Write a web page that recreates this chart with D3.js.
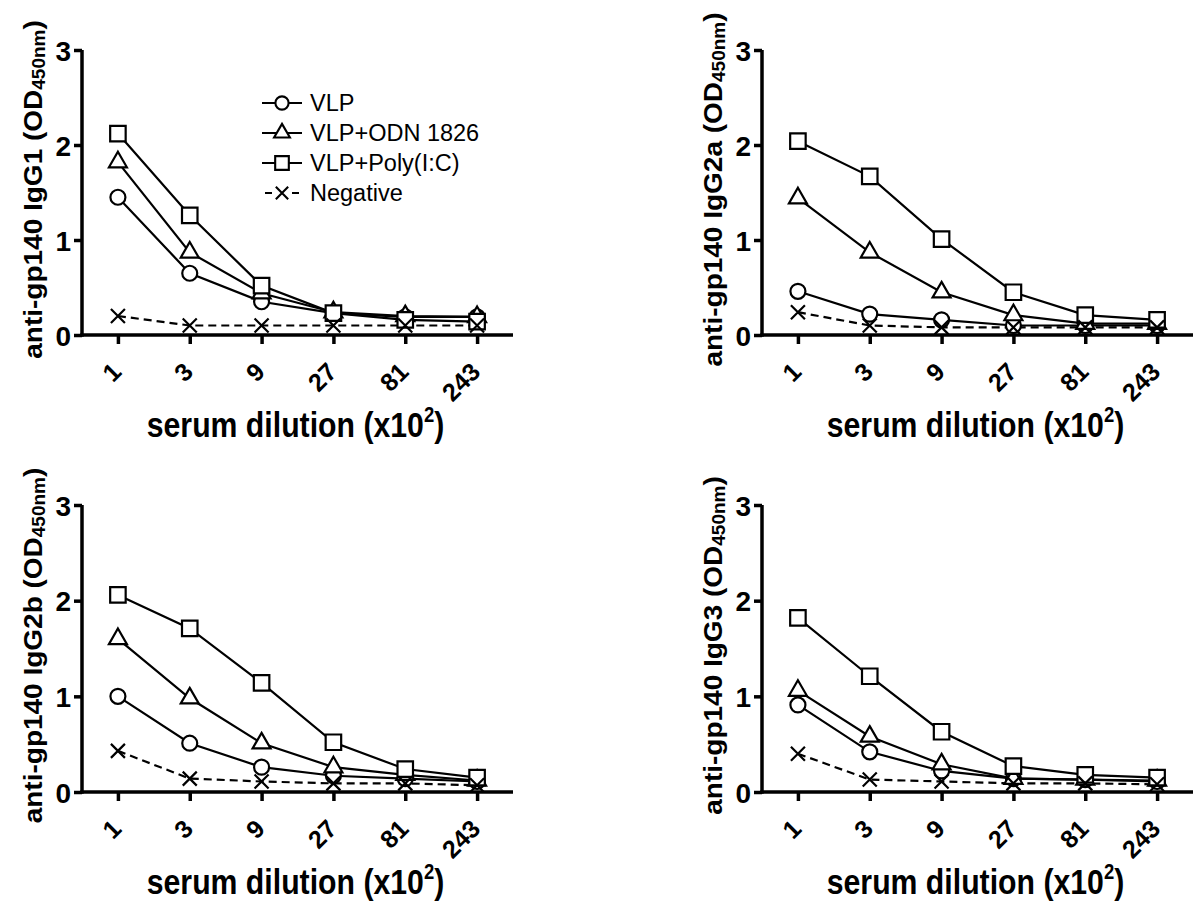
<!DOCTYPE html>
<html><head><meta charset="utf-8">
<script src="https://cdn.jsdelivr.net/npm/d3@7"></script>
<style>body{margin:0;background:#fff}svg{display:block}</style>
</head><body><svg id="c" width="1200" height="918"></svg>
<script>
// ---------- data ----------
const dilutions = ["1","3","9","27","81","243"];
const seriesNames = ["VLP","VLP+ODN 1826","VLP+Poly(I:C)","Negative"];
const yTickValues = [0,1,2,3];
const isotypes = ["IgG1","IgG2a","IgG2b","IgG3"];

const igg1VLP  = [1.45,0.65,0.35,0.23,0.19,0.19];
const igg1ODN  = [1.82,0.87,0.44,0.24,0.20,0.19];
const igg1Poly = [2.12,1.26,0.52,0.23,0.16,0.14];
const igg1Neg  = [0.20,0.10,0.10,0.10,0.10,0.10];

const igg2aVLP  = [0.46,0.22,0.16,0.10,0.10,0.10];
const igg2aODN  = [1.44,0.87,0.45,0.21,0.12,0.12];
const igg2aPoly = [2.04,1.67,1.01,0.45,0.21,0.16];
const igg2aNeg  = [0.24,0.10,0.08,0.08,0.08,0.08];

const igg2bVLP  = [1.00,0.51,0.26,0.17,0.14,0.11];
const igg2bODN  = [1.60,0.98,0.51,0.26,0.18,0.12];
const igg2bPoly = [2.06,1.71,1.14,0.52,0.24,0.15];
const igg2bNeg  = [0.43,0.14,0.11,0.09,0.09,0.07];

const igg3VLP  = [0.91,0.42,0.22,0.14,0.13,0.11];
const igg3ODN  = [1.06,0.58,0.29,0.14,0.13,0.12];
const igg3Poly = [1.82,1.21,0.63,0.27,0.18,0.15];
const igg3Neg  = [0.40,0.13,0.11,0.09,0.09,0.08];

// ---------- layout ----------
const panels = [
  {iso: isotypes[0], data:[igg1VLP, igg1ODN, igg1Poly, igg1Neg], ax:82,  top:50,  bottom:335, legend:true},
  {iso: isotypes[1], data:[igg2aVLP,igg2aODN,igg2aPoly,igg2aNeg], ax:762, top:50,  bottom:335},
  {iso: isotypes[2], data:[igg2bVLP,igg2bODN,igg2bPoly,igg2bNeg], ax:82,  top:505, bottom:792},
  {iso: isotypes[3], data:[igg3VLP, igg3ODN, igg3Poly, igg3Neg], ax:762, top:505, bottom:792}
];
const axisLen = 431;
const FONT = "'Liberation Sans', Arial, Helvetica, sans-serif";

const svg = d3.select("#c");

const symCircle = d3.symbol().type(d3.symbolCircle).size(Math.PI*7.5*7.5)();
const symTri = d3.symbol().type(d3.symbolTriangle).size(140)();
const symSquare = d3.symbol().type(d3.symbolSquare).size(15.5*15.5)();
const symX = "M-7,-7L7,7M-7,7L7,-7";
const markers = [symCircle, symTri, symSquare, symX];

panels.forEach(p => {
  const g = svg.append("g").attr("transform", `translate(${p.ax},0)`);
  const x = d3.scalePoint().domain(dilutions).range([0, axisLen]).padding(0.5);
  const y = d3.scaleLinear().domain([0,3]).range([p.bottom, p.top]);

  const yAx = g.append("g").call(d3.axisLeft(y).tickValues(yTickValues).tickSize(8).tickSizeOuter(0).tickPadding(3).tickFormat(d3.format("d")));
  const xAx = g.append("g").attr("transform", `translate(0,${p.bottom})`)
    .call(d3.axisBottom(x).tickSize(9).tickSizeOuter(0));

  [yAx, xAx].forEach(a => {
    a.select(".domain").attr("stroke","#000").attr("stroke-width",3.5);
    a.selectAll(".tick line").attr("stroke","#000").attr("stroke-width",3.5);
    a.attr("font-family", FONT).attr("font-weight","bold");
  });
  yAx.select(".domain").attr("d", `M0,${p.top}V${p.bottom+1.75}`);
  xAx.select(".domain").attr("d", `M-1.75,0H${axisLen}`);

  yAx.selectAll(".tick text").attr("font-size", 28).attr("fill","#000").attr("dy","0.36em");
  xAx.selectAll(".tick text").attr("font-size", 25).attr("fill","#000")
    .attr("x",0).attr("y",0).attr("dy","0.36em")
    .attr("text-anchor","end")
    .attr("transform","translate(-2,32) rotate(-45)");

  p.data.forEach((vals, si) => {
    const line = d3.line().x((d,i)=>x(dilutions[i])).y(d=>y(d));
    g.append("path").datum(vals).attr("d", line)
      .attr("fill","none").attr("stroke","#000").attr("stroke-width",2.2)
      .attr("stroke-dasharray", si===3 ? "8,5" : null);
  });
  p.data.forEach((vals, si) => {
    g.append("g").selectAll("path").data(vals).join("path")
      .attr("transform",(d,i)=>`translate(${x(dilutions[i])},${y(d)})`)
      .attr("d", markers[si])
      .attr("fill", si===3 ? "none" : "#fff")
      .attr("stroke","#000").attr("stroke-width",2.2);
  });

  const cy = (p.top + p.bottom)/2 - 3;
  const yt = svg.append("text")
    .attr("transform", `translate(${p.ax-50},${cy}) scale(0.95,1) rotate(-90)`)
    .attr("text-anchor","middle").attr("dominant-baseline","central")
    .attr("font-family",FONT).attr("font-weight","bold").attr("font-size",28);
  yt.append("tspan").text(`anti-gp140 ${p.iso} (OD`);
  yt.append("tspan").attr("font-size",19).attr("dy",6).text("450nm");
  yt.append("tspan").attr("dy",-6).text(")");

  const xt = svg.append("text")
    .attr("transform", `translate(${p.ax + axisLen/2 - 2},${p.bottom+102}) scale(0.84,1)`)
    .attr("text-anchor","middle")
    .attr("font-family",FONT).attr("font-weight","bold").attr("font-size",36);
  xt.append("tspan").text("serum dilution (x10");
  xt.append("tspan").attr("font-size",22).attr("dy",-15).text("2");
  xt.append("tspan").attr("dy",15).text(")");

  if (p.legend) {
    const lg = svg.append("g").attr("transform","translate(262,103)");
    seriesNames.forEach((name, si) => {
      const row = lg.append("g").attr("transform",`translate(0,${si*30})`);
      if (si===3) {
        row.append("path").attr("d","M3,0H10M30,0H37").attr("stroke","#000").attr("stroke-width",2.2);
      } else {
        row.append("path").attr("d","M0,0H40").attr("stroke","#000").attr("stroke-width",2.2);
      }
      row.append("path").attr("transform","translate(20,0) scale(0.88)").attr("d", markers[si])
        .attr("fill", si===3?"none":"#fff").attr("stroke","#000").attr("stroke-width",2.4);
      row.append("text").attr("x",48).attr("y",0).attr("dy","0.36em")
        .attr("font-family",FONT).attr("font-size",23.5).text(name);
    });
  }
});
</script></body></html>
